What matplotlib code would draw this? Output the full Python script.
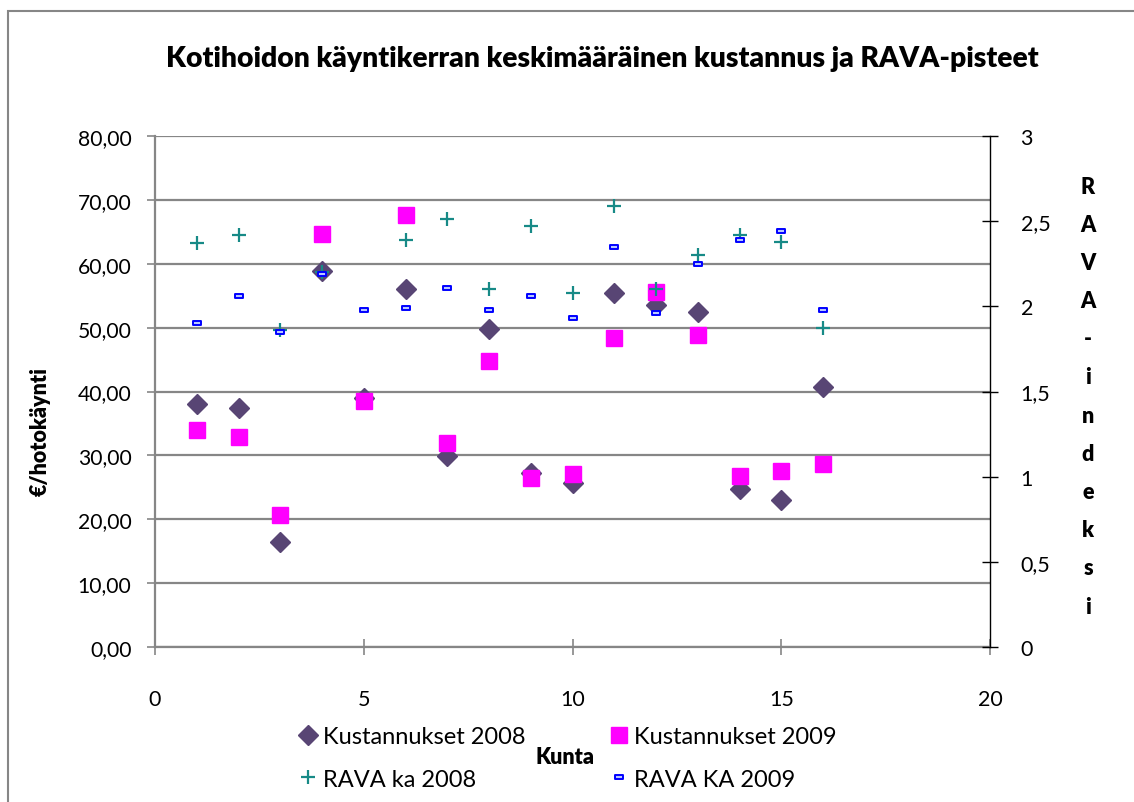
import numpy as np
import matplotlib
matplotlib.use("Agg")
import matplotlib.pyplot as plt
from matplotlib.path import Path
from matplotlib.patches import Rectangle

# ---- data ----
kunta = [1, 2, 3, 4, 5, 6, 7, 8, 9, 10, 11, 12, 13, 14, 15, 16]
kust_2008 = [38.1, 37.4, 16.4, 58.8, 39.0, 56.0, 29.9, 49.8, 27.3, 25.6, 55.4, 53.5, 52.4, 24.8, 23.0, 40.7]
kust_2009 = [33.9, 32.8, 20.6, 64.6, 38.5, 67.6, 31.9, 44.7, 26.4, 27.1, 48.3, 55.5, 48.9, 26.8, 27.5, 28.6]
rava_2008 = [2.37, 2.42, 1.86, 2.20, np.nan, 2.39, 2.51, 2.10, 2.47, 2.08, 2.59, 2.10, 2.30, 2.42, 2.38, 1.87]
rava_2009 = [1.90, 2.06, 1.85, 2.19, 1.98, 1.99, 2.11, 1.98, 2.06, 1.93, 2.35, 1.96, 2.25, 2.39, 2.44, 1.98]

labels = ["Kustannukset 2008", "Kustannukset 2009", "RAVA ka 2008", "RAVA KA 2009"]
title = "Kotihoidon käyntikerran keskimääräinen kustannus ja RAVA-pisteet"
left_ticks = [0, 10, 20, 30, 40, 50, 60, 70, 80]
right_ticks = [0, 0.5, 1, 1.5, 2, 2.5, 3]
x_ticks = [0, 5, 10, 15, 20]

plt.rcParams['font.family'] = ['Lato', 'DejaVu Sans']

W, H = 1134, 803
fig = plt.figure(figsize=(W / 100, H / 100), dpi=100)
fig.patch.set_facecolor('white')

gray = '#868686'
ax = fig.add_axes([155 / W, 1 - 648 / H, (990 - 155) / W, (648 - 137) / H])
ax2 = ax.twinx()

# outer chart frame
fig.patches.append(Rectangle((8 / W, -0.05), 1.1, 1 - 12 / H + 0.05, transform=fig.transFigure,
                             fill=False, edgecolor=gray, linewidth=1.5, zorder=0))

c_dia = '#584574'
c_sq = '#FF00FF'
c_plus = '#178A87'
c_dash = '#0000FF'
dash_marker = Path([(-1, -0.5), (1, -0.5), (1, 0.5), (-1, 0.5), (-1, -0.5)],
                   [Path.MOVETO, Path.LINETO, Path.LINETO, Path.LINETO, Path.CLOSEPOLY])

h1, = ax.plot(kunta, kust_2008, linestyle='none', marker='D', markersize=10.3,
              color=c_dia, markeredgecolor=c_dia, label=labels[0], zorder=3)
h2, = ax.plot(kunta, kust_2009, linestyle='none', marker='s', markersize=11,
              color=c_sq, markeredgecolor=c_sq, label=labels[1], zorder=4)
h3, = ax2.plot(kunta, rava_2008, linestyle='none', marker='+', markersize=10,
               markeredgewidth=1.6, color=c_plus, label=labels[2], zorder=3)
h4, = ax2.plot(kunta, rava_2009, linestyle='none', marker=dash_marker, markersize=5.8,
               markerfacecolor='#b8c8ff', markeredgecolor=c_dash, markeredgewidth=1.4,
               label=labels[3], zorder=4)

ax.set_xlim(0, 20)
ax.set_ylim(0, 80)
ax2.set_ylim(0, 3)
ax.set_xticks(x_ticks)
ax.set_yticks(left_ticks)
ax2.set_yticks(right_ticks)
ax.set_yticklabels([f"{v:.2f}".replace('.', ',') for v in left_ticks])
ax2.set_yticklabels([(f"{v:g}").replace('.', ',') for v in right_ticks])
ax.set_xticklabels([str(v) for v in x_ticks])

ax.yaxis.grid(True, color=gray, linewidth=1.6)
ax.set_axisbelow(True)
for sp in ['top', 'right']:
    ax.spines[sp].set_visible(False)
for sp in ['top', 'left', 'bottom']:
    ax2.spines[sp].set_visible(False)
ax.spines['left'].set_color(gray)
ax.spines['left'].set_linewidth(1.6)
ax.spines['bottom'].set_color(gray)
ax.spines['bottom'].set_linewidth(1.6)
ax2.spines['right'].set_color('black')
ax2.spines['right'].set_linewidth(1.0)

ax.tick_params(axis='y', direction='out', length=6, width=1.2, color=gray,
               labelsize=15.2, pad=11, labelcolor='black')
ax.tick_params(axis='x', direction='inout', length=12, width=1.2, color=gray,
               labelsize=15.5, pad=24, labelcolor='black')
ax2.tick_params(axis='y', direction='inout', length=12, width=1.0, color='black',
                labelsize=15.5, pad=16, labelcolor='black')

# titles / axis labels
fig.text(602 / W, 1 - 59 / H, title, ha='center', va='center', fontsize=20.3, fontweight='heavy')
fig.text(40 / W, 1 - 432 / H, "€/hotokäynti", rotation=90, ha='center', va='center',
         fontsize=15.5, fontweight='heavy')
fig.text(565 / W, 1 - 758 / H, "Kunta", ha='center', va='center', fontsize=15.5, fontweight='heavy')

right_label = "RAVA-indeksi"
y0, step = 187, 38.2
for i, ch in enumerate(right_label):
    fig.text(1088 / W, 1 - (y0 + i * step) / H, ch, ha='center', va='center',
             fontsize=15.5, fontweight='heavy')

fig.legend([h1, h3, h2, h4], [labels[0], labels[2], labels[1], labels[3]],
           loc='center', bbox_to_anchor=(568 / W, 1 - 759 / H), ncol=2, frameon=False,
           fontsize=17, handlelength=0.7, handletextpad=0.3, columnspacing=3.6,
           labelspacing=0.9, borderaxespad=0)

fig.savefig('out.png', dpi=100)
